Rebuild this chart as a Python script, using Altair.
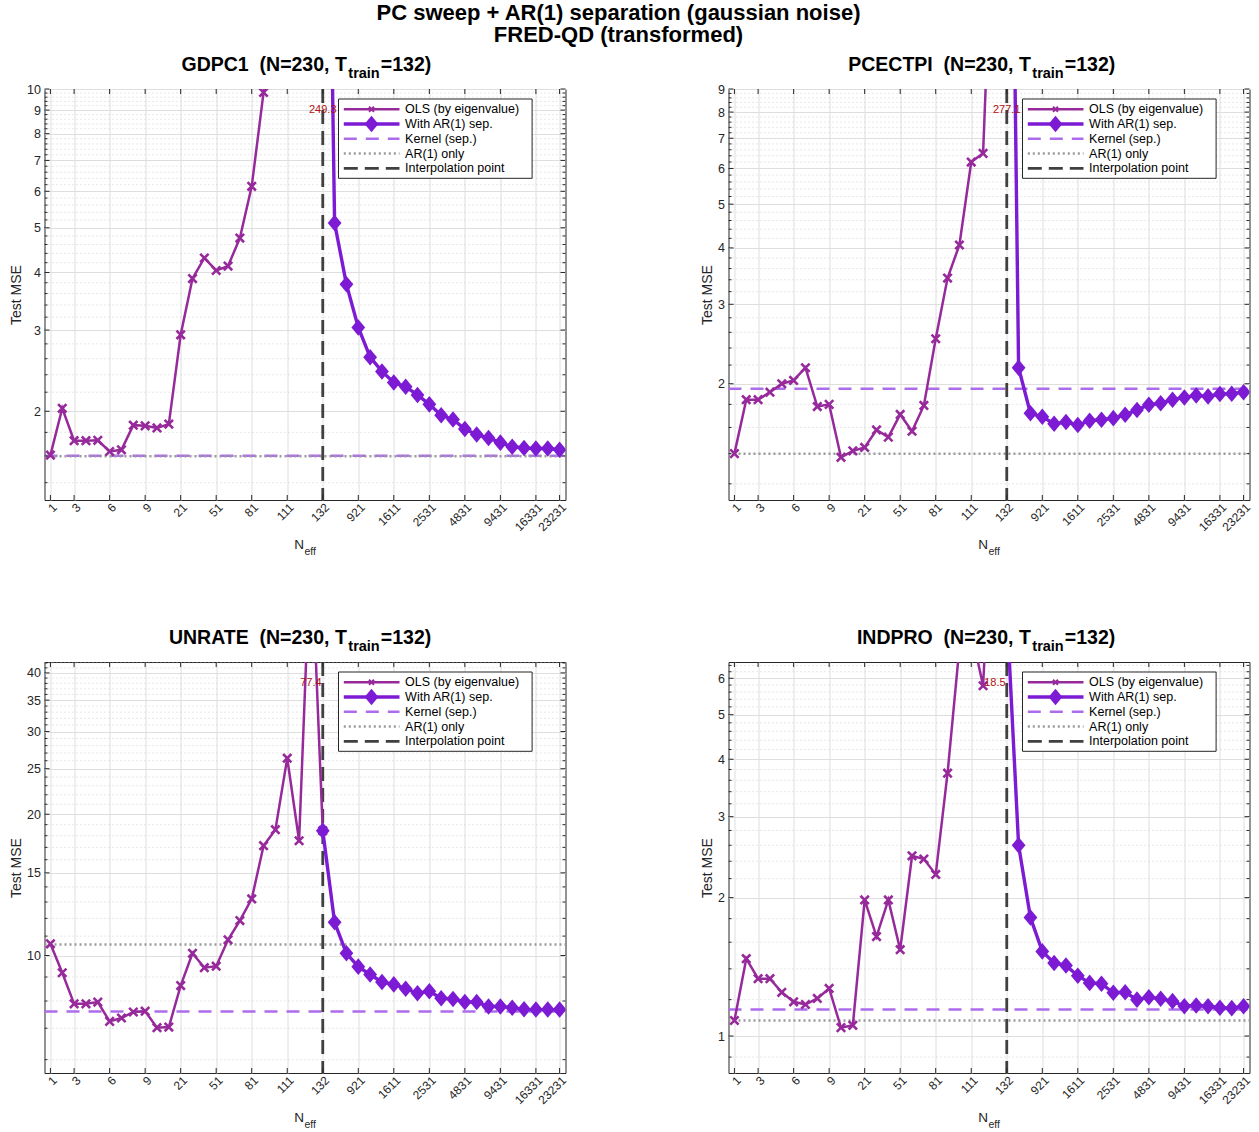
import altair as alt
import pandas as pd

# ---- sweep positions and N_eff tick labels -------------------------------
tick_idx = [1, 3, 6, 9, 12, 15, 18, 21, 24, 27, 30, 33, 36, 39, 42, 44]
tick_lab = ["1", "3", "6", "9", "21", "51", "81", "111", "132",
            "921", "1611", "2531", "4831", "9431", "16331", "23231"]
INTERP_IDX = 24          # N_eff = T_train = 132
X_DOMAIN = [0.5, 44.5]

# ---- GDPC1 -------------------------------------------------------------------
gdpc1_ols = [1.607, 2.03, 1.727, 1.727, 1.73, 1.636, 1.65, 1.866, 1.86, 1.84,
             1.876, 2.93, 3.88, 4.30, 4.04, 4.13, 4.75, 6.15, 9.83, 16.8,
             31.5, 58.0, 112.4, 249.3]
gdpc1_sep = [249.3, 5.12, 3.77, 3.04, 2.62, 2.44, 2.31, 2.26, 2.17, 2.07,
             1.96, 1.92, 1.83, 1.78, 1.75, 1.71, 1.675, 1.665, 1.66, 1.66, 1.65]
gdpc1_kernel, gdpc1_ar1 = 1.601, 1.598
gdpc1_ylim = [1.284, 10.0]
gdpc1_major = [2, 3, 4, 5, 6, 7, 8, 9, 10]

# ---- PCECTPI -----------------------------------------------------------------
pcectpi_ols = [1.40, 1.844, 1.844, 1.916, 2.0, 2.034, 2.17, 1.78, 1.80, 1.374,
               1.42, 1.445, 1.58, 1.523, 1.71, 1.57, 1.79, 2.516, 3.43, 4.06,
               6.2, 6.48, 30.3, 277.1]
pcectpi_sep = [277.1, 2.17, 1.72, 1.69, 1.63, 1.645, 1.62, 1.656, 1.664, 1.678,
               1.707, 1.75, 1.797, 1.81, 1.844, 1.865, 1.884, 1.875, 1.897, 1.90, 1.916]
pcectpi_kernel, pcectpi_ar1 = 1.95, 1.40
pcectpi_ylim = [1.105, 9.0]
pcectpi_major = [2, 3, 4, 5, 6, 7, 8, 9]

# ---- UNRATE ------------------------------------------------------------------
unrate_ols = [10.59, 9.19, 7.89, 7.89, 7.96, 7.24, 7.36, 7.58, 7.61, 7.02,
              7.04, 8.63, 10.11, 9.42, 9.49, 10.8, 11.87, 13.2, 17.14, 18.54,
              26.33, 17.56, 77.4, 18.45]
unrate_sep = [18.45, 11.77, 10.11, 9.47, 9.11, 8.78, 8.68, 8.50, 8.31, 8.39,
              8.11, 8.08, 7.96, 7.96, 7.79, 7.79, 7.74, 7.68, 7.67, 7.67, 7.67]
unrate_kernel, unrate_ar1 = 7.60, 10.55
unrate_ylim = [5.62, 42.2]
unrate_major = [10, 15, 20, 25, 30, 35, 40]

# ---- INDPRO ------------------------------------------------------------------
indpro_ols = [1.081, 1.473, 1.333, 1.333, 1.245, 1.187, 1.171, 1.207, 1.269, 1.043,
              1.055, 1.977, 1.646, 1.977, 1.541, 2.466, 2.426, 2.247, 3.73, 7.0,
              7.6, 5.78, 18.5, 8.5]
indpro_sep = [8.5, 2.60, 1.81, 1.528, 1.442, 1.423, 1.353, 1.305, 1.30, 1.242,
              1.245, 1.20, 1.215, 1.205, 1.191, 1.161, 1.165, 1.161, 1.152, 1.15, 1.161]
indpro_kernel, indpro_ar1 = 1.142, 1.081
indpro_ylim = [0.831, 6.51]
indpro_major = [1, 2, 3, 4, 5, 6]

# ---- styling -----------------------------------------------------------------
W, H = 521, 411
FONT = "Liberation Sans"
INK = "#262626"
GRID = "#dedede"
C_OLS = "#972a9b"
C_SEP = "#7c1bd3"
C_KER = "#ad6cec"
C_AR1 = "#9a9a9a"
C_INT = "#404040"
C_PEAK = "#b01010"

X_PATH = "M-1,-1L1,1M-1,1L1,-1"
DIAMOND = "M0,-1.2L1,0L0,1.2L-1,0Z"

label_expr = "".join(f"datum.value == {i} ? '{l}' : " for i, l in zip(tick_idx, tick_lab)) + "''"

one = pd.DataFrame({"k": [0]})


def minor_list(lo, hi, step_small, step_big, major):
    # unlabeled log-axis grid positions
    vals = []
    v = 0.1
    while v <= hi:
        if v >= lo and all(abs(v - m) > 1e-6 for m in major):
            vals.append(round(v, 3))
        v = round(v + (0.1 if v < 0.999 else (step_small if v < 9.999 else step_big)), 3)
    return vals


def txt(x, y, s, **kw):
    return alt.Chart(one).mark_text(**kw).encode(x=alt.value(x), y=alt.value(y), text=alt.value(s))


def panel(series, ols, sep, kernel, ar1, ylim, major, minor):
    xs = alt.Scale(domain=X_DOMAIN, nice=False, zero=False)
    ys = alt.Scale(type="log", domain=ylim, nice=False, zero=False)
    xax = alt.Axis(values=tick_idx, labelExpr=label_expr, labelAngle=-45,
                   labelAlign="right", labelBaseline="middle", labelPadding=5, labelOffset=4,
                   labelFontSize=12, labelColor=INK, labelOverlap=False, labelBound=False,
                   tickSize=0, domain=False,
                   grid=True, gridColor=GRID, gridWidth=1, title=None)
    yax = alt.Axis(values=major, format="~g", labelFontSize=12.5, labelColor=INK,
                   labelOverlap=False, labelBound=False,
                   labelPadding=4, tickSize=0, domain=False, grid=True,
                   gridColor=GRID, gridWidth=1, title="Test MSE",
                   titleFontSize=14, titleFontWeight="normal", titleColor=INK,
                   titlePadding=3)
    X = alt.X("idx:Q", scale=xs, axis=xax)
    Y = alt.Y("mse:Q", scale=ys, axis=yax)

    ols_df = pd.DataFrame({"idx": list(range(1, len(ols) + 1)), "mse": ols})
    sep_df = pd.DataFrame({"idx": list(range(INTERP_IDX, INTERP_IDX + len(sep))), "mse": sep})
    minor_df = pd.DataFrame({"mse": minor})
    major_df = pd.DataFrame({"mse": major})
    xt_df = pd.DataFrame({"idx": tick_idx})

    layers = []
    # dotted minor grid
    layers.append(alt.Chart(minor_df).mark_rule(color="#d0d0d0", strokeWidth=1, strokeDash=[1, 3])
                  .encode(y=Y, x=alt.value(0), x2=alt.value(W)))
    # reference lines
    layers.append(alt.Chart(pd.DataFrame({"mse": [kernel]})).mark_rule(
        color=C_KER, strokeWidth=2.5, strokeDash=[13, 9]).encode(y=Y, x=alt.value(0), x2=alt.value(W)))
    layers.append(alt.Chart(pd.DataFrame({"mse": [ar1]})).mark_rule(
        color=C_AR1, strokeWidth=2.5, strokeDash=[2, 3]).encode(y=Y, x=alt.value(0), x2=alt.value(W)))
    layers.append(alt.Chart(pd.DataFrame({"idx": [INTERP_IDX]})).mark_rule(
        color=C_INT, strokeWidth=2.8, strokeDash=[14, 7]).encode(x=X, y=alt.value(0), y2=alt.value(H)))
    # OLS sweep
    layers.append(alt.Chart(ols_df).mark_line(color=C_OLS, strokeWidth=2.5, clip=True).encode(x=X, y=Y))
    layers.append(alt.Chart(ols_df).mark_point(shape=X_PATH, size=70, color=C_OLS, strokeWidth=2.6,
                                               filled=False, opacity=1, clip=True).encode(x=X, y=Y))
    # with AR(1) separation
    layers.append(alt.Chart(sep_df).mark_line(color=C_SEP, strokeWidth=3.4, clip=True).encode(x=X, y=Y))
    layers.append(alt.Chart(sep_df).mark_point(shape=DIAMOND, size=190, color=C_SEP, filled=True,
                                               opacity=1, clip=True).encode(x=X, y=Y))
    # peak annotation
    pk = max(ols)
    pk_df = pd.DataFrame({"idx": [ols.index(pk) + 1], "mse": [0.9 * ylim[1]], "txt": [f"{pk:.1f}"]})
    layers.append(alt.Chart(pk_df).mark_text(color=C_PEAK, fontSize=11, align="center",
                                             baseline="middle").encode(x=X, y=Y, text="txt:N"))
    # inward ticks on all four sides
    tick = dict(color=INK, strokeWidth=1)
    layers.append(alt.Chart(xt_df).mark_rule(**tick).encode(x=X, y=alt.value(H - 5), y2=alt.value(H)))
    layers.append(alt.Chart(xt_df).mark_rule(**tick).encode(x=X, y=alt.value(0), y2=alt.value(5)))
    layers.append(alt.Chart(major_df).mark_rule(**tick).encode(y=Y, x=alt.value(0), x2=alt.value(5)))
    layers.append(alt.Chart(major_df).mark_rule(**tick).encode(y=Y, x=alt.value(W - 5), x2=alt.value(W)))
    layers.append(alt.Chart(minor_df).mark_rule(**tick).encode(y=Y, x=alt.value(0), x2=alt.value(3)))
    layers.append(alt.Chart(minor_df).mark_rule(**tick).encode(y=Y, x=alt.value(W - 3), x2=alt.value(W)))

    # legend box
    lx0, lx1, ly0, ly1 = 294, 487.6, 10, 89.3
    layers.append(alt.Chart(one).mark_rect(fill="white", stroke=INK, strokeWidth=1).encode(
        x=alt.value(lx0), x2=alt.value(lx1), y=alt.value(ly0), y2=alt.value(ly1)))
    entries = [
        ("OLS (by eigenvalue)", C_OLS, 2.5, None),
        ("With AR(1) sep.", C_SEP, 3.4, None),
        ("Kernel (sep.)", C_KER, 2.5, [13, 9]),
        ("AR(1) only", C_AR1, 2.5, [2, 3]),
        ("Interpolation point", C_INT, 2.8, [14, 7]),
    ]
    for k, (lab, col, sw, dash) in enumerate(entries):
        ey = 20.3 + 14.75 * k
        kw = dict(color=col, strokeWidth=sw)
        if dash:
            kw["strokeDash"] = dash
        layers.append(alt.Chart(one).mark_rule(**kw).encode(
            x=alt.value(299.3), x2=alt.value(355), y=alt.value(ey)))
        layers.append(txt(360.6, ey, lab, align="left", baseline="middle", fontSize=12.5, color="#000000"))
        if k == 0:
            layers.append(alt.Chart(one).mark_point(shape=X_PATH, size=25, color=C_OLS, strokeWidth=2,
                                                    filled=False, opacity=1).encode(
                x=alt.value(327), y=alt.value(ey)))
        if k == 1:
            layers.append(alt.Chart(one).mark_point(shape=DIAMOND, size=190, color=C_SEP, filled=True,
                                                    opacity=1).encode(x=alt.value(327), y=alt.value(ey)))

    # panel title with subscript (non-breaking space keeps the double gap)
    a = 302.3
    bold = dict(baseline="alphabetic", fontWeight="bold", color="#000000")
    layers.append(txt(a, -18, f"{series}\u00a0 (N=230, T", align="right", fontSize=19.5, **bold))
    layers.append(txt(a + 1.5, -11, "train", align="left", fontSize=14.5, **bold))
    layers.append(txt(a + 34, -18, "=132)", align="left", fontSize=19.5, **bold))
    # x-axis title N_eff
    layers.append(txt(W / 2 - 1, H + 49, "N", align="right", baseline="alphabetic",
                      fontSize=13.5, color=INK))
    layers.append(txt(W / 2 - 0.5, H + 55, "eff", align="left", baseline="alphabetic",
                      fontSize=10.5, color=INK))
    return layers


p1_layers = panel("GDPC1", gdpc1_ols, gdpc1_sep, gdpc1_kernel, gdpc1_ar1, gdpc1_ylim,
                  gdpc1_major, minor_list(*gdpc1_ylim, 0.2, 1.0, gdpc1_major))
# figure title, placed above the first panel
p1_layers.append(txt(574, -69.5, "PC sweep + AR(1) separation (gaussian noise)", align="center",
                     baseline="alphabetic", fontSize=22, fontWeight="bold", color="#000000"))
p1_layers.append(txt(574, -47, "FRED-QD (transformed)", align="center",
                     baseline="alphabetic", fontSize=22, fontWeight="bold", color="#000000"))

p2_layers = panel("PCECTPI", pcectpi_ols, pcectpi_sep, pcectpi_kernel, pcectpi_ar1, pcectpi_ylim,
                  pcectpi_major, minor_list(*pcectpi_ylim, 0.2, 1.0, pcectpi_major))
p3_layers = panel("UNRATE", unrate_ols, unrate_sep, unrate_kernel, unrate_ar1, unrate_ylim,
                  unrate_major, minor_list(*unrate_ylim, 1.0, 1.0, unrate_major))
p4_layers = panel("INDPRO", indpro_ols, indpro_sep, indpro_kernel, indpro_ar1, indpro_ylim,
                  indpro_major, minor_list(*indpro_ylim, 0.2, 1.0, indpro_major))

p1 = alt.layer(*p1_layers).properties(width=W, height=H)
p2 = alt.layer(*p2_layers).properties(width=W, height=H)
p3 = alt.layer(*p3_layers).properties(width=W, height=H)
p4 = alt.layer(*p4_layers).properties(width=W, height=H)

chart = (
    alt.concat(p1, p2, p3, p4, columns=2, spacing={"row": 162, "column": 163}, bounds="flush")
    .properties(padding={"left": 8.5, "top": 1, "right": 5, "bottom": 5}, background="white")
    .configure(font=FONT)
    .configure_view(stroke=INK, strokeWidth=1)
)

chart.save("out.html", embed_options={"renderer": "svg", "actions": False})
